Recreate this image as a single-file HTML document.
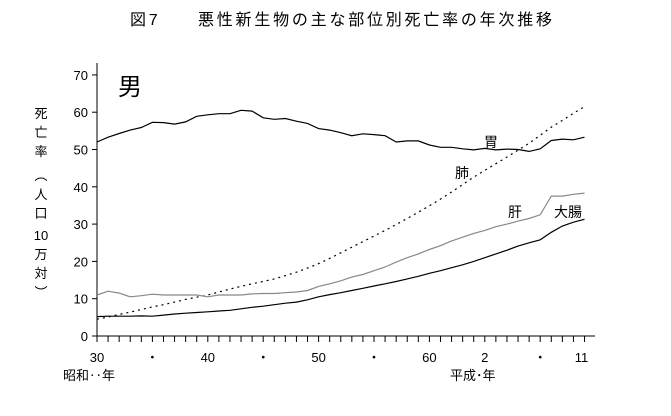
<!DOCTYPE html>
<html><head><meta charset="utf-8"><style>
body{margin:0;background:#fff;}
svg{display:block;font-family:"Liberation Sans","Noto Sans CJK JP","IPAGothic",sans-serif;}
</style></head><body>
<svg id="c" width="671" height="416" viewBox="0 0 671 416"></svg>
<script>
const years=[];for(let y=1955;y<=1999;y++)years.push(y);
const stomach=[52,53.3,54.3,55.2,55.9,57.3,57.2,56.8,57.4,58.9,59.3,59.6,59.6,60.5,60.3,58.5,58.1,58.3,57.6,57.0,55.6,55.2,54.5,53.7,54.2,54.0,53.7,52.0,52.3,52.3,51.2,50.6,50.6,50.2,49.9,50.3,49.9,50.1,50.0,49.5,50.2,52.4,52.8,52.6,53.3];
const lung=[4.5,5.1,5.8,6.4,7.1,7.8,8.4,9.1,9.8,10.4,11.0,11.8,12.6,13.3,14.0,14.6,15.3,16.2,17.1,18.2,19.4,20.8,22.3,23.8,25.3,26.8,28.3,29.9,31.5,33.2,34.9,36.7,38.6,40.6,42.6,44.4,46.2,48.0,49.8,51.7,53.8,56.0,57.8,59.7,61.5];
const liver=[11,12,11.5,10.5,10.8,11.2,11,11,11,11,10.5,11,11,11,11.3,11.4,11.4,11.6,11.8,12.2,13.3,14.0,14.8,15.8,16.5,17.5,18.5,19.8,21,22,23.2,24.2,25.5,26.5,27.5,28.3,29.3,30,30.8,31.5,32.5,37.5,37.5,38,38.3];
const colon=[5.2,5.3,5.3,5.3,5.4,5.3,5.6,5.9,6.1,6.3,6.5,6.7,6.9,7.3,7.7,8.0,8.4,8.8,9.1,9.7,10.5,11.1,11.6,12.2,12.8,13.4,14.0,14.6,15.3,16.0,16.8,17.5,18.3,19.1,20.0,21.0,22.0,23.0,24.1,25.0,25.8,27.8,29.5,30.5,31.3];
const yTicks=[0,10,20,30,40,50,60,70];
const xLabels=[[1955,"30"],[1960,"・"],[1965,"40"],[1970,"・"],[1975,"50"],[1980,"・"],[1985,"60"],[1990,"2"],[1995,"・"],[1999,"11"]];
const NS="http://www.w3.org/2000/svg",svg=document.getElementById('c');
const X0=97,XS=11.08,Y0=336,YS=3.73;
function xs(y){return X0+(y-1955)*XS;}
function ys(v){return Y0-v*YS;}
function el(t,a,p){const e=document.createElementNS(NS,t);for(const k in a)e.setAttribute(k,a[k]);(p||svg).appendChild(e);return e;}
function txt(s,x,y,size,anchor){const e=el('text',{x:x,y:y,'font-size':size,'text-anchor':anchor||'start',fill:'#000'});e.textContent=s;return e;}
let t=txt("図7　　悪性新生物の主な部位別死亡率の年次推移",130,25,16);
t.setAttribute('textLength','422');
t.setAttribute('lengthAdjust','spacing');


t=txt("男",118,95,24);


const ax=el('g',{stroke:'#000','stroke-width':1,fill:'none'});


el('line',{x1:X0,y1:63,x2:X0,y2:Y0},ax);
el('line',{x1:X0,y1:Y0,x2:595,y2:Y0},ax);
yTicks.forEach(v=>{el('line',{x1:X0-5,y1:ys(v),x2:X0,y2:ys(v)},ax);
 const l=txt(String(v),X0-9,ys(v)+5,13,'end');
 
 });
years.forEach(y=>el('line',{x1:xs(y),y1:Y0,x2:xs(y),y2:Y0+6},ax));
xLabels.forEach(([y,s])=>{const l=txt(s,xs(y)+(s==="11"?-3:0),362,13,'middle');
 
 });
t=txt("昭和‥年",63,380,13);


t=txt("平成･年",450,380,13);


const yt=el('g',{});


[["死",118],["亡",137],["率",156],["︵",180],["人",199],["口",218],["10",240],["万",259],["対",278],["︶",297]].forEach(([c,y])=>{const e=el('text',{x:41,y:y,'font-size':13,'text-anchor':'middle'},yt);e.textContent=c;});
function line(data,name,attrs){const d=data.map((v,i)=>(i?'L':'M')+xs(years[i]).toFixed(1)+' '+ys(v).toFixed(1)).join(' ');
 const p=el('path',Object.assign({d:d,fill:'none'},attrs));
 
 }
line(stomach,'line-stomach',{stroke:'#000','stroke-width':1.2});
line(lung,'line-lung',{stroke:'#000','stroke-width':1.2,'stroke-dasharray':'2 4'});
line(liver,'line-liver',{stroke:'#888','stroke-width':1.2});
line(colon,'line-colon',{stroke:'#000','stroke-width':1.2});
[["胃",484,147,'label-stomach'],["肺",455,178,'label-lung'],["肝",508,217,'label-liver'],["大腸",554,217,'label-colon']].forEach(([s,x,y,n])=>{const l=txt(s,x,y,14);
 
 });
</script>
</body></html>
